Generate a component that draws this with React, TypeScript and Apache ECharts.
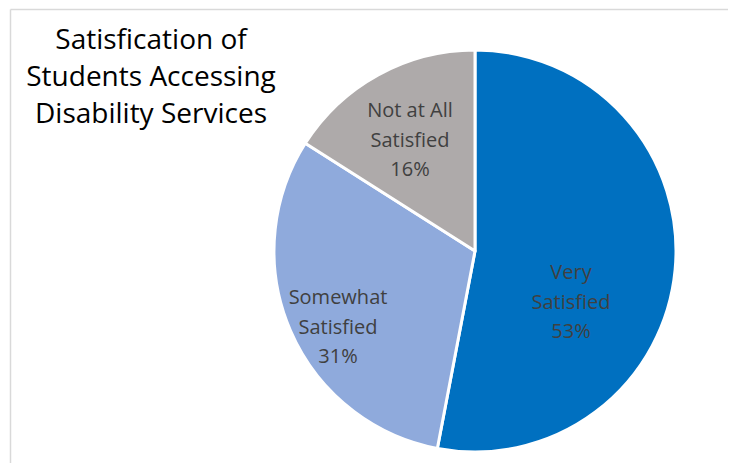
import React, { useEffect, useRef } from "react";
import * as echarts from "echarts";

const categories = ["Very Satisfied", "Somewhat Satisfied", "Not at All Satisfied"];
const labelNames = ["Very\nSatisfied", "Somewhat\nSatisfied", "Not at All\nSatisfied"];
const values = [53, 31, 16];
const colors = ["#0070C0", "#8FAADC", "#AEAAAA"];
const titleText = "Satisfication of\nStudents Accessing\nDisability Services";

const labelSpots = [
  [571, 301],
  [338, 326],
  [410, 139],
];

export default function App() {
  const ref = useRef<HTMLDivElement>(null);
  useEffect(() => {
    if (!ref.current) return;
    const chart = echarts.init(ref.current, undefined, { renderer: "svg" });
    chart.setOption({
      animation: false,
      backgroundColor: "#ffffff",
      graphic: [
        {
          type: "line",
          shape: { x1: 10.5, y1: 9.5, x2: 736, y2: 9.5 },
          style: { stroke: "#D9D9D9", lineWidth: 1.5 },
          silent: true,
        },
        {
          type: "line",
          shape: { x1: 10.5, y1: 9.5, x2: 10.5, y2: 471 },
          style: { stroke: "#D9D9D9", lineWidth: 1.5 },
          silent: true,
        },
        {
          type: "text",
          x: 151,
          y: 19,
          style: {
            text: titleText,
            font: "28px 'Open Sans', sans-serif",
            fill: "#000000",
            align: "center",
            verticalAlign: "top",
            lineHeight: 37,
          },
        },
      ],
      series: [
        {
          type: "pie",
          center: [475, 251],
          radius: [0, 201],
          startAngle: 90,
          clockwise: true,
          itemStyle: { borderColor: "#ffffff", borderWidth: 3 },
          label: {
            show: true,
            position: "inside",
            color: "#404040",
            fontSize: 20,
            lineHeight: 29.5,
            fontFamily: "'Open Sans', sans-serif",
            align: "center",
            formatter: (p: any) => `${labelNames[p.dataIndex]}\n${p.value}%`,
          },
          labelLayout: (p: any) => ({
            x: labelSpots[p.dataIndex][0],
            y: labelSpots[p.dataIndex][1],
            align: "center",
            verticalAlign: "middle",
          }),
          emphasis: { disabled: true },
          data: categories.map((c, i) => ({
            name: c,
            value: values[i],
            itemStyle: { color: colors[i] },
          })),
        },
      ],
    });
    return () => chart.dispose();
  }, []);
  return <div ref={ref} style={{ width: 736, height: 471, margin: -8 }} />;
}
